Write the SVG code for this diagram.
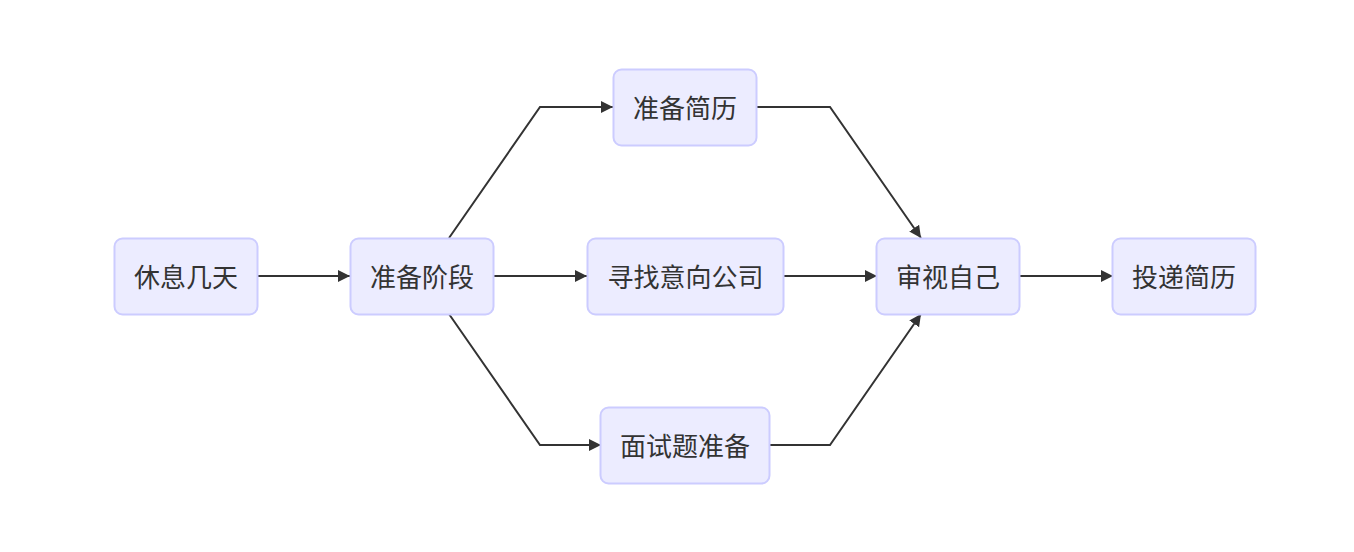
<svg xmlns="http://www.w3.org/2000/svg" width="1354" height="552" viewBox="0 0 1354 552">
<style>
.node rect{fill:#ECECFF;stroke:#CCCCFF;stroke-width:2}
.node text{font-family:"Noto Sans CJK SC","Noto Sans",sans-serif;font-size:26px;fill:#333;text-anchor:middle;dominant-baseline:central}
.edge{fill:none;stroke:#333;stroke-width:2}
</style>
<defs>
<marker id="arrow" viewBox="0 0 10 10" refX="10" refY="5" markerWidth="12" markerHeight="12" markerUnits="userSpaceOnUse" orient="auto">
<path d="M0,0 L10,5 L0,10 z" fill="#333"/>
</marker>
</defs>
<rect width="1354" height="552" fill="#fff"/>
<g id="connectors">
<path class="edge" d="M258,276 L350,276" marker-end="url(#arrow)"/>
<path class="edge" d="M449,238 L540,107 L613,107" marker-end="url(#arrow)"/>
<path class="edge" d="M494,276 L587,276" marker-end="url(#arrow)"/>
<path class="edge" d="M449,314 L540,445 L601,445" marker-end="url(#arrow)"/>
<path class="edge" d="M757,107 L830,107 L921,238" marker-end="url(#arrow)"/>
<path class="edge" d="M784,276 L877,276" marker-end="url(#arrow)"/>
<path class="edge" d="M770,445 L830,445 L921,314" marker-end="url(#arrow)"/>
<path class="edge" d="M1019,276 L1113,276" marker-end="url(#arrow)"/>
</g>
<g id="n1" class="node"><rect x="114.5" y="238.5" width="143" height="76" rx="8"/><text x="186" y="275">休息几天</text></g>
<g id="n2" class="node"><rect x="350.5" y="238.5" width="143" height="76" rx="8"/><text x="422" y="275">准备阶段</text></g>
<g id="n3" class="node"><rect x="613.5" y="69.5" width="143" height="76" rx="8"/><text x="685" y="106">准备简历</text></g>
<g id="n4" class="node"><rect x="587.5" y="238.5" width="196" height="76" rx="8"/><text x="685.5" y="275">寻找意向公司</text></g>
<g id="n5" class="node"><rect x="600.5" y="407.5" width="169" height="76" rx="8"/><text x="685" y="444">面试题准备</text></g>
<g id="n6" class="node"><rect x="876.5" y="238.5" width="143" height="76" rx="8"/><text x="948" y="275">审视自己</text></g>
<g id="n7" class="node"><rect x="1112.5" y="238.5" width="143" height="76" rx="8"/><text x="1184" y="275">投递简历</text></g>
</svg>
